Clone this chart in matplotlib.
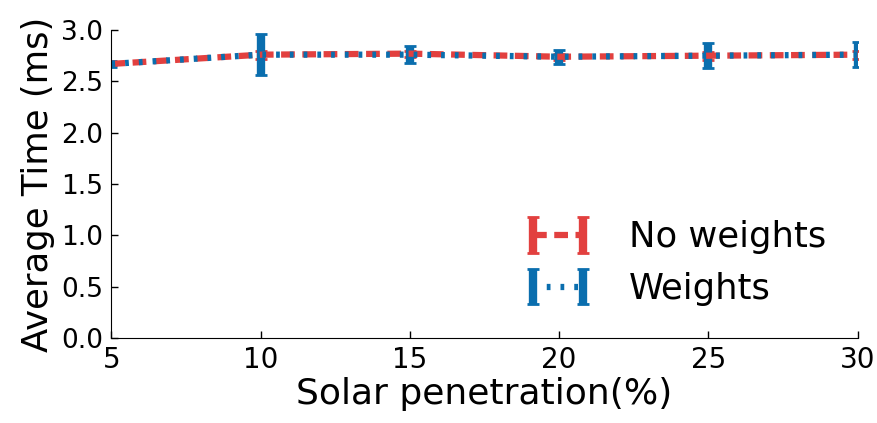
import numpy as np
import matplotlib
matplotlib.use("Agg")
import matplotlib.pyplot as plt

# solar penetration (%)
pen = [5, 10, 15, 20, 25, 30]

# average time (ms)
t_noweights = [2.67, 2.76, 2.77, 2.74, 2.75, 2.76]
t_weights = [2.67, 2.76, 2.76, 2.74, 2.75, 2.76]
err_noweights = [0.01, 0.04, 0.03, 0.03, 0.04, 0.04]
err_weights = [0.03, 0.20, 0.08, 0.07, 0.12, 0.12]

red = "#e2403f"
blue = "#0a6eae"

fig, ax = plt.subplots(figsize=(8.77, 4.23), dpi=100)
fig.subplots_adjust(left=0.127, right=0.978, top=0.929, bottom=0.201)

ax.errorbar(pen, t_noweights, yerr=err_noweights, color=red, lw=4.5,
            dashes=(2.2, 1.2), elinewidth=6, capsize=4, capthick=2,
            label="No weights")
ax.errorbar(pen, t_weights, yerr=err_weights, color=blue, lw=4.5,
            dashes=(0.6, 1.6), elinewidth=6, capsize=4, capthick=2,
            label="Weights")

ax.set_xlim(5, 30)
ax.set_ylim(0, 3.0)
ax.set_xticks(pen)
ax.set_yticks(np.arange(0, 3.01, 0.5))
ax.set_yticklabels([f"{v:.1f}" for v in np.arange(0, 3.01, 0.5)])

ax.spines["top"].set_visible(False)
ax.spines["right"].set_visible(False)
ax.tick_params(direction="in", length=5, width=1, labelsize=19, pad=6)
ax.tick_params(axis="x", labelsize=20)

ax.set_xlabel("Solar penetration(%)", fontsize=26, labelpad=2)
ax.set_ylabel("Average Time (ms)", fontsize=25.5, labelpad=4)

ax.legend(loc="lower right", frameon=False, fontsize=25.5, numpoints=2,
          handlelength=2.0, handletextpad=1.0, labelspacing=0.5,
          bbox_to_anchor=(1.0, 0.0))

fig.savefig("out.png", dpi=100)
